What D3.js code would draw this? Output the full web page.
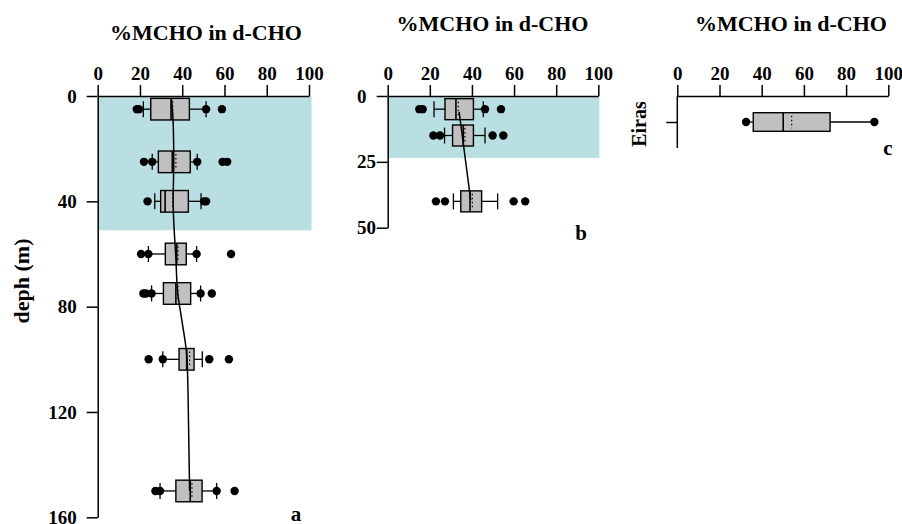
<!DOCTYPE html>
<html><head><meta charset="utf-8">
<script src="https://cdn.jsdelivr.net/npm/d3@7"></script>
<style>
body{margin:0;background:#fff}
svg{display:block}
text{font-family:"Liberation Serif","Times New Roman",serif;font-weight:bold;fill:#000}
</style>
</head><body><svg id="chart" width="902" height="524"></svg>
<script>
// ---------- data ----------
const xTicks = [0, 20, 40, 60, 80, 100];
const depthTicksA = [0, 40, 80, 120, 160];
const depthTicksB = [0, 25, 50];
const titleText = "%MCHO in d-CHO";
const yLabelA = "deph (m)";
const categoriesC = ["Eiras"];
const panelLetters = ["a", "b", "c"];

// shaded (surface) layers: depth range
const shadeDepthA = [0, 51];
const shadeDepthB = [0, 23.5];

// panel a boxes
const depthsA = [5, 25, 40, 60, 75, 100, 150];
const loA   = [21.6, 25.8, 27.0, 24.0, 25.5, 30.8, 29.5];
const q1A   = [25.1, 28.7, 29.8, 32.0, 31.1, 38.5, 37.0];
const medA  = [34.7, 35.3, 31.9, 37.4, 37.0, 42.1, 43.8];
const meanA = [35.5, 37.0, 35.5, 38.0, 38.0, 43.5, 44.6];
const q3A   = [43.4, 43.8, 42.9, 41.9, 44.0, 45.6, 49.4];
const hiA   = [51.3, 47.1, 48.9, 46.8, 48.7, 49.5, 56.3];
const ptsA  = [
  [18.5, 19.5, 51.3, 58.8],
  [21.9, 25.8, 47.1, 59.1, 61.3],
  [23.6, 50.3, 51.3],
  [20.5, 24.0, 46.8, 63.1],
  [21.6, 22.8, 25.5, 48.7, 54.0],
  [24.1, 30.8, 52.8, 62.1],
  [27.3, 29.5, 56.3, 64.8]
];
// smooth trend line panel a
const smoothDepthA = [1, 12, 25, 40, 51, 60, 75, 85, 100, 125, 150];
const smoothValA   = [34.9, 35.8, 36.0, 35.7, 36.2, 36.9, 37.9, 39.8, 42.3, 43.0, 43.5];

// panel b boxes
const depthsB = [5, 15, 40];
const loB   = [22.0, 27.0, 31.2];
const q1B   = [27.2, 30.8, 34.7];
const medB  = [32.4, 35.9, 39.1];
const meanB = [33.5, 36.7, 40.2];
const q3B   = [40.7, 40.7, 44.6];
const hiB   = [45.4, 46.2, 52.2];
const ptsB  = [
  [15.0, 16.6, 46.2, 53.8],
  [21.7, 24.8, 49.8, 54.9],
  [22.9, 27.2, 59.8, 65.3]
];
const smoothDepthB = [6, 15, 39.5];
const smoothValB   = [33.9, 35.4, 39.4];

// panel c box
const loC   = [32.6];
const q1C   = [36.0];
const medC  = [50.2];
const meanC = [54.2];
const q3C   = [72.4];
const hiC   = [93.4];
const ptsC  = [[32.6, 93.4]];

// ---------- drawing ----------
const svg = d3.select("#chart");
const SHADE = "#badfe2";
const BOXFILL = "#c0c0c0";
const AX_W = 1.5;

function styleAxis(g) {
  g.selectAll("path.domain").attr("stroke", "#000").attr("stroke-width", AX_W);
  g.selectAll(".tick line").attr("stroke", "#000").attr("stroke-width", AX_W);
  g.selectAll(".tick text").style("font-family", '"Liberation Serif",serif')
    .style("font-weight", "bold").style("font-size", "19px").attr("fill", "#000");
}

function drawBoxes(g, x, yPos, keys, lo, q1, med, mean, q3, hi, pts, opt) {
  const hb = opt.half, cap = opt.cap;
  keys.forEach((k, i) => {
    const yc = yPos(k);
    g.append("line").attr("x1", x(lo[i])).attr("x2", x(q1[i])).attr("y1", yc).attr("y2", yc)
      .attr("stroke", "#000").attr("stroke-width", 1.3);
    g.append("line").attr("x1", x(q3[i])).attr("x2", x(hi[i])).attr("y1", yc).attr("y2", yc)
      .attr("stroke", "#000").attr("stroke-width", 1.3);
    if (opt.caps) {
      [lo[i], hi[i]].forEach(v => {
        g.append("line").attr("x1", x(v)).attr("x2", x(v)).attr("y1", yc - cap).attr("y2", yc + cap)
          .attr("stroke", "#000").attr("stroke-width", 1.3);
      });
    }
    g.append("rect").attr("x", x(q1[i])).attr("y", yc - hb)
      .attr("width", x(q3[i]) - x(q1[i])).attr("height", 2 * hb)
      .attr("fill", BOXFILL).attr("stroke", "#000").attr("stroke-width", 1.4);
    g.append("line").attr("x1", x(med[i])).attr("x2", x(med[i])).attr("y1", yc - hb).attr("y2", yc + hb)
      .attr("stroke", "#000").attr("stroke-width", 1.6);
    g.append("line").attr("x1", x(mean[i])).attr("x2", x(mean[i])).attr("y1", yc - hb + 3).attr("y2", yc + hb - 3)
      .attr("stroke", "#000").attr("stroke-width", 1.2).attr("stroke-dasharray", "1.5,2.5");
    pts[i].forEach(v => {
      g.append("circle").attr("cx", x(v)).attr("cy", yc).attr("r", 4.2).attr("fill", "#000");
    });
  });
}

function drawTitle(cx, y) {
  svg.append("text").attr("x", cx).attr("y", y).attr("text-anchor", "middle")
    .style("font-size", "22px").text(titleText);
}

// ===== panel a =====
const xA = d3.scaleLinear().domain([0, 100]).range([97.7, 309]);
const yA = d3.scaleLinear().domain([0, 160]).range([96, 517.3]);
const gA = svg.append("g");
gA.append("rect").attr("x", xA(0)).attr("y", yA(shadeDepthA[0]))
  .attr("width", xA(101.2) - xA(0)).attr("height", yA(shadeDepthA[1]) - yA(shadeDepthA[0]))
  .attr("fill", SHADE);
gA.append("g").attr("transform", `translate(0,${yA(0)})`)
  .call(d3.axisTop(xA).tickValues(xTicks).tickSize(11).tickSizeOuter(0).tickPadding(5).tickFormat(d3.format("d")))
  .call(styleAxis);
gA.append("g").attr("transform", `translate(${xA(0)},0)`)
  .call(d3.axisLeft(yA).tickValues(depthTicksA).tickSize(11).tickSizeOuter(0).tickPadding(10).tickFormat(d3.format("d")))
  .call(styleAxis);
drawBoxes(gA, xA, yA, depthsA, loA, q1A, medA, meanA, q3A, hiA, ptsA, {half: 10.8, cap: 8, caps: true});
gA.append("path").datum(smoothDepthA.map((d, i) => [smoothValA[i], d]))
  .attr("fill", "none").attr("stroke", "#000").attr("stroke-width", 1.5)
  .attr("d", d3.line().x(d => xA(d[0])).y(d => yA(d[1])).curve(d3.curveMonotoneY));
drawTitle(206, 40);
svg.append("text").attr("transform", "translate(29,281) rotate(-90)").attr("text-anchor", "middle")
  .style("font-size", "22px").text(yLabelA);
svg.append("text").attr("x", 296).attr("y", 521).attr("text-anchor", "middle")
  .style("font-size", "21px").text(panelLetters[0]);

// ===== panel b =====
const xB = d3.scaleLinear().domain([0, 100]).range([387.7, 598.3]);
const yB = d3.scaleLinear().domain([0, 50]).range([96, 227.7]);
const gB = svg.append("g");
gB.append("rect").attr("x", xB(0)).attr("y", yB(shadeDepthB[0]))
  .attr("width", xB(100.5) - xB(0)).attr("height", yB(shadeDepthB[1]) - yB(shadeDepthB[0]))
  .attr("fill", SHADE);
gB.append("g").attr("transform", `translate(0,${yB(0)})`)
  .call(d3.axisTop(xB).tickValues(xTicks).tickSize(11).tickSizeOuter(0).tickPadding(5).tickFormat(d3.format("d")))
  .call(styleAxis);
const axBy = gB.append("g").attr("transform", `translate(${xB(0)},0)`)
  .call(d3.axisLeft(yB).tickValues(depthTicksB).tickSize(11).tickSizeOuter(0).tickFormat(d3.format("d")))
  .call(styleAxis);
// labels of this axis are left-aligned in the reference
axBy.selectAll(".tick text").attr("text-anchor", "start").attr("x", 357 - xB(0));
drawBoxes(gB, xB, yB, depthsB, loB, q1B, medB, meanB, q3B, hiB, ptsB, {half: 10.5, cap: 8, caps: true});
gB.append("path").datum(smoothDepthB.map((d, i) => [smoothValB[i], d]))
  .attr("fill", "none").attr("stroke", "#000").attr("stroke-width", 1.5)
  .attr("d", d3.line().x(d => xB(d[0])).y(d => yB(d[1])));
drawTitle(492.5, 31);
svg.append("text").attr("x", 581).attr("y", 240).attr("text-anchor", "middle")
  .style("font-size", "21px").text(panelLetters[1]);

// ===== panel c =====
const xC = d3.scaleLinear().domain([0, 100]).range([677.3, 888.3]);
const yC = d3.scalePoint().domain(categoriesC).range([96, 148]).padding(0.5);
const gC = svg.append("g");
gC.append("g").attr("transform", `translate(0,96)`)
  .call(d3.axisTop(xC).tickValues(xTicks).tickSize(11).tickSizeOuter(0).tickPadding(5).tickFormat(d3.format("d")))
  .call(styleAxis);
const axC = gC.append("g").attr("transform", `translate(${xC(0)},0)`)
  .call(d3.axisLeft(yC).tickSize(11).tickSizeOuter(0).tickFormat(""))
  .call(styleAxis);
axC.select("path.domain").attr("d", "M0,96V148");
drawBoxes(gC, xC, yC, categoriesC, loC, q1C, medC, meanC, q3C, hiC, ptsC, {half: 9.3, cap: 0, caps: false});
categoriesC.forEach(c => {
  svg.append("text").attr("transform", `translate(646,${yC(c) + 2}) rotate(-90)`).attr("text-anchor", "middle")
    .style("font-size", "20px").text(c);
});
drawTitle(791, 31);
svg.append("text").attr("x", 888).attr("y", 155).attr("text-anchor", "middle")
  .style("font-size", "21px").text(panelLetters[2]);
</script>
</body></html>
